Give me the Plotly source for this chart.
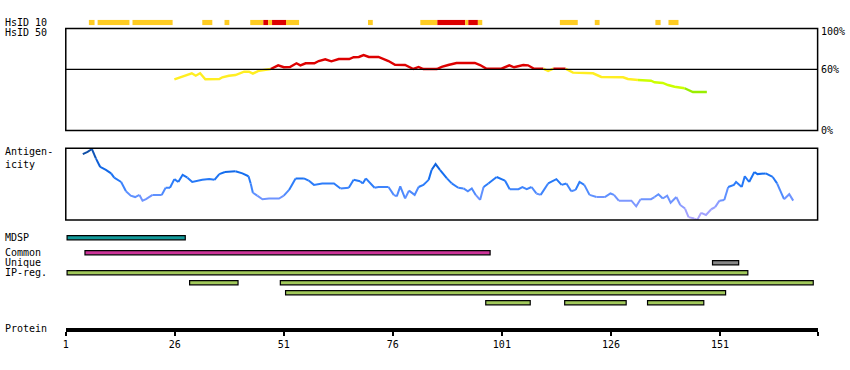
import plotly.graph_objects as go

W, H = 850, 370

# ---------------- data ----------------
# HsID 10 row: residue segments and identity level
hs10_start = [6.3, 8.3, 16.3, 32.3, 37.4, 43.3, 46.3, 47.4, 48.3, 51.5, 70.3, 82.3, 86.2, 92.6, 93.3, 95.5, 114.3, 122.3, 136.2, 139.2]
hs10_end = [7.6, 15.6, 25.5, 34.6, 38.5, 46.3, 47.4, 48.3, 51.5, 54.5, 71.4, 86.2, 92.6, 93.3, 95.5, 96.5, 118.4, 123.4, 137.4, 141.5]
hs10_level = ["mid", "mid", "mid", "mid", "mid", "mid", "high", "mid", "high", "mid",
              "mid", "mid", "high", "mid", "high", "mid", "mid", "mid", "mid", "mid"]

# HsID 50 curve (residue, % identity)
hs50_pos = [25.9, 27.8, 29.9, 30.8, 31.8, 33.0, 36.2, 36.9, 38.4, 39.9, 41.9, 43.0, 43.9, 45.3,
            48.0, 49.7, 51.0, 52.4, 53.9, 54.8, 56.0, 58.0, 59.0, 60.5, 61.9, 63.6, 66.0, 67.0,
            68.2, 69.3, 70.5, 72.7, 75.0, 76.5, 78.8, 80.7, 81.9, 83.0, 86.1, 87.2, 88.7, 90.6,
            94.8, 96.0, 97.5, 100.9, 102.7, 103.8, 105.9, 107.0, 108.4, 110.5, 111.6, 112.8,
            115.6, 117.3, 121.9, 123.8, 128.8, 129.9, 132.2, 135.2, 136.0, 137.9, 139.1, 140.6,
            142.9, 144.8, 148.0]
hs50_pct = [50.2, 52.7, 56.1, 53.7, 56.1, 50.2, 50.5, 52.2, 53.7, 54.4, 57.6, 57.6, 55.7, 58.6,
            60.3, 63.9, 62.0, 62.3, 65.9, 63.9, 65.9, 65.9, 68.1, 69.8, 67.8, 70.1, 70.1, 71.8,
            72.1, 74.0, 72.1, 72.1, 68.1, 64.5, 64.2, 60.3, 62.3, 60.3, 60.3, 62.3, 64.2, 66.2,
            66.2, 64.2, 60.6, 60.6, 63.9, 62.0, 64.2, 63.9, 60.6, 60.6, 58.3, 60.6,
            60.6, 56.7, 56.1, 52.5, 52.2, 50.5, 49.5, 48.8, 47.3, 46.6, 44.6, 42.9,
            41.4, 37.7, 37.7]

# Antigenicity profile (residue, relative score)
ag_pos = [4.9, 6.0, 7.0, 7.9, 8.9, 10.2, 11.4, 12.1, 13.7, 14.8, 15.9, 16.9, 17.9, 18.6, 19.4,
          20.9, 23.0, 23.9, 24.9, 25.9, 26.8, 27.8, 28.9, 30.0, 32.3, 33.9, 35.1, 36.2, 37.5,
          39.9, 41.5, 42.9, 43.4, 43.9, 44.9, 46.1, 47.6, 49.9, 51.0, 52.2, 53.7, 55.6, 56.7,
          57.9, 59.8, 62.5, 64.0, 65.9, 67.0, 68.5, 69.1, 69.8, 71.8, 72.7, 75.0, 76.2, 76.9,
          77.7, 78.8, 79.7, 81.0, 81.9, 83.0, 84.2, 84.9, 85.8, 86.8, 88.4, 89.5, 91.0, 92.2,
          93.2, 94.1, 95.0, 96.0, 96.8, 97.9, 99.8, 101.7, 102.8, 104.8, 105.7, 106.7, 107.8,
          108.9, 109.9, 111.6, 113.5, 114.7, 115.8, 116.9, 117.9, 118.8, 119.9, 121.1, 122.7,
          124.6, 125.9, 126.7, 127.8, 130.7, 131.8, 132.8, 135.2, 136.0, 136.9, 137.9, 138.9,
          139.7, 141.0, 141.9, 143.0, 143.8, 145.1, 145.8, 146.7, 147.8, 149.0, 149.9, 150.9,
          152.0, 152.9, 154.2, 154.7, 156.0, 156.7, 157.7, 158.9, 159.6, 161.5, 163.1, 164.1,
          165.7, 166.9, 167.8]
ag_val = [0.92, 0.95, 0.99, 0.86, 0.74, 0.70, 0.65, 0.59, 0.53, 0.40, 0.34, 0.32, 0.35, 0.27, 0.29,
          0.35, 0.35, 0.45, 0.45, 0.57, 0.53, 0.63, 0.59, 0.53, 0.56, 0.57, 0.56, 0.64, 0.67,
          0.68, 0.65, 0.61, 0.51, 0.38, 0.34, 0.29, 0.30, 0.30, 0.34, 0.42, 0.58, 0.58, 0.55,
          0.49, 0.51, 0.51, 0.44, 0.45, 0.56, 0.54, 0.51, 0.58, 0.45, 0.46, 0.46, 0.35, 0.33,
          0.47, 0.30, 0.41, 0.35, 0.46, 0.49, 0.56, 0.70, 0.78, 0.70, 0.58, 0.51, 0.45, 0.44,
          0.40, 0.44, 0.35, 0.28, 0.46, 0.51, 0.60, 0.55, 0.43, 0.43, 0.46, 0.43, 0.46,
          0.37, 0.35, 0.51, 0.57, 0.49, 0.51, 0.40, 0.42, 0.53, 0.49, 0.35, 0.32,
          0.32, 0.37, 0.35, 0.27, 0.27, 0.19, 0.29, 0.29, 0.32, 0.36, 0.30, 0.34,
          0.24, 0.32, 0.21, 0.16, 0.04, 0.02, 0.00, 0.10, 0.07, 0.15, 0.18, 0.27,
          0.28, 0.46, 0.49, 0.53, 0.46, 0.61, 0.53, 0.67, 0.64, 0.65, 0.60, 0.51,
          0.29, 0.36, 0.27]

# Feature tracks
feat_lane = [0, 1.5, 2.5, 3.5, 4.5, 4.5, 5.5, 6.5, 6.5, 6.5]
feat_start = [1.3, 5.4, 149.3, 1.3, 29.4, 50.2, 51.4, 97.3, 115.4, 134.4]
feat_end = [28.4, 98.3, 155.3, 157.4, 40.5, 172.4, 152.3, 107.5, 129.5, 147.3]
feat_kind = ["MDSP", "Common", "Unique", "IP", "IP", "IP", "IP", "IP", "IP", "IP"]

protein_ticks = [1, 26, 51, 76, 101, 126, 151]
protein_end = 173.4

# ---------------- styling ----------------
FONT = "DejaVu Sans Mono"
hs10_colors = {"mid": "#ffcc22", "high": "#dd0000"}
feat_colors = {"MDSP": "#139a9a", "Common": "#cc3399", "Unique": "#888888", "IP": "#a0c85a"}


def hs50_color(v):
    if v >= 59.5:
        return "#dd0000"
    if v >= 50:
        return "#ffee22"
    if v >= 40:
        return "#ccff00"
    return "#99ee00"


AG_STOPS = [(0.0, (182, 170, 255)), (0.2, (140, 155, 255)), (0.35, (95, 145, 255)),
            (0.5, (45, 125, 250)), (0.65, (20, 110, 240)), (0.8, (15, 95, 215)), (1.0, (15, 72, 150))]


def ag_color(v):
    v = max(0.0, min(1.0, round(v * 20) / 20))
    for (a, ca), (b, cb) in zip(AG_STOPS[:-1], AG_STOPS[1:]):
        if a <= v <= b:
            t = (v - a) / (b - a) if b > a else 0
            c = [round(ca[i] + (cb[i] - ca[i]) * t) for i in range(3)]
            return "rgb(%d,%d,%d)" % tuple(c)
    return "rgb(15,72,150)"


def colored_runs(xs, ys, colfn):
    runs = []
    for i in range(len(xs) - 1):
        c = colfn((ys[i] + ys[i + 1]) / 2)
        if runs and runs[-1][0] == c:
            runs[-1][1].append(xs[i + 1])
            runs[-1][2].append(ys[i + 1])
        else:
            runs.append([c, [xs[i], xs[i + 1]], [ys[i], ys[i + 1]]])
    return runs


fig = go.Figure()

# HsID 10 bars
fig.add_trace(go.Bar(
    orientation="h", y=[0] * len(hs10_start),
    base=hs10_start, x=[e - s for s, e in zip(hs10_start, hs10_end)],
    width=1, marker=dict(color=[hs10_colors[l] for l in hs10_level], line=dict(width=0)),
    xaxis="x", yaxis="y4", hoverinfo="skip"))

# HsID 50 curve
for c, xs, ys in colored_runs(hs50_pos, hs50_pct, hs50_color):
    fig.add_trace(go.Scatter(x=xs, y=ys, mode="lines", line=dict(color=c, width=2.4),
                             xaxis="x", yaxis="y", hoverinfo="skip"))

# Antigenicity curve
for c, xs, ys in colored_runs(ag_pos, ag_val, ag_color):
    fig.add_trace(go.Scatter(x=xs, y=ys, mode="lines", line=dict(color=c, width=2),
                             xaxis="x", yaxis="y2", hoverinfo="skip"))

# Feature bars
fig.add_trace(go.Bar(
    orientation="h", y=feat_lane, base=feat_start,
    x=[e - s for s, e in zip(feat_start, feat_end)],
    width=0.42, marker=dict(color=[feat_colors[k] for k in feat_kind],
                            line=dict(color="black", width=1.2)),
    xaxis="x", yaxis="y3", hoverinfo="skip"))


def py(p):
    return 1 - p / H


# frames and reference line
shapes = [
    dict(type="rect", xref="x domain", yref="y domain", x0=0, x1=1, y0=0, y1=1,
         line=dict(color="black", width=1.5)),
    dict(type="rect", xref="x domain", yref="y2 domain", x0=0, x1=1, y0=0, y1=1,
         line=dict(color="black", width=1.5)),
    dict(type="line", xref="x domain", yref="y", x0=0, x1=1, y0=60, y1=60,
         line=dict(color="black", width=1.2)),
]

ann_font = dict(family=FONT, size=10, color="black")
left_labels = [("HsID 10", 22), ("HsID 50", 32.5), ("Antigen-", 151.5), ("icity", 164),
               ("MDSP", 237.5), ("Common", 252.3), ("Unique", 262.3), ("IP-reg.", 272.3),
               ("Protein", 328.5)]
annotations = [dict(text=t, x=1 / W, y=py(p), xref="paper", yref="paper",
                    xanchor="left", yanchor="middle", showarrow=False, font=ann_font,
                    borderpad=0)
               for t, p in left_labels]
for txt, val, shift in [("100%", 100, -3), ("60%", 60, 0), ("0%", 0, 0)]:
    annotations.append(dict(text=txt, x=819.5 / W, y=val, xref="paper", yref="y",
                            yshift=shift, xanchor="left", yanchor="middle",
                            showarrow=False, font=ann_font, borderpad=0))

fig.update_layout(
    width=W, height=H, margin=dict(l=0, r=0, t=0, b=0),
    paper_bgcolor="white", plot_bgcolor="white",
    showlegend=False, barmode="overlay", hovermode=False,
    shapes=shapes, annotations=annotations,
    xaxis=dict(domain=[63 / W, 817.5 / W], range=[1, protein_end], anchor="free",
               position=py(330), showline=True, linecolor="black", linewidth=3.5,
               ticks="outside", ticklen=4, tickwidth=1.5, tickcolor="black",
               tickvals=protein_ticks + [protein_end],
               ticktext=[str(t) for t in protein_ticks] + [""],
               tickfont=dict(family=FONT, size=10, color="black"),
               showgrid=False, zeroline=False, fixedrange=True),
    yaxis=dict(domain=[py(130.5), py(28.5)], range=[0, 100], visible=False, anchor="x"),
    yaxis2=dict(domain=[py(220), py(148.3)], range=[0, 1], visible=False, anchor="x"),
    yaxis3=dict(domain=[py(307.7), py(232.7)], range=[7.0, -0.5], visible=False, anchor="x"),
    yaxis4=dict(domain=[py(25.3), py(19.7)], range=[-0.5, 0.5], visible=False, anchor="x"),
)

fig.write_html("out.html")
